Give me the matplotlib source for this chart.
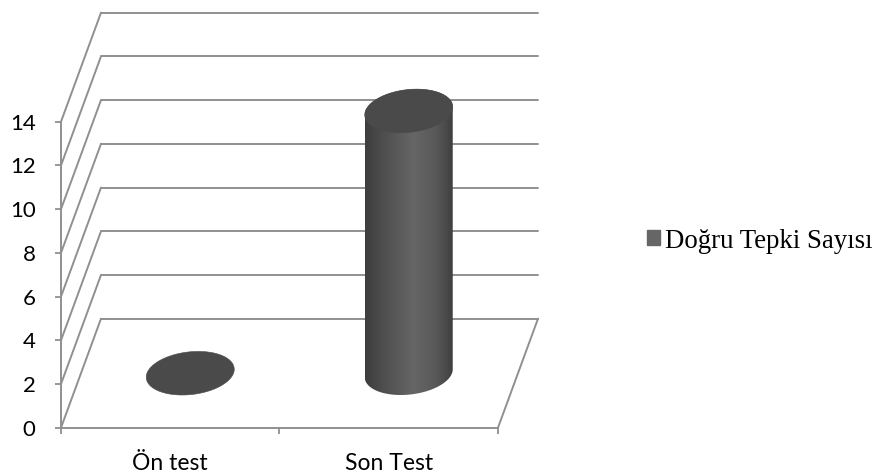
import numpy as np
import matplotlib
matplotlib.use("Agg")
import matplotlib.pyplot as plt
from matplotlib.patches import Polygon, Patch

categories = ["Ön test", "Son Test"]
values = [0, 12]
series_name = "Doğru Tepki Sayısı"
y_ticks = [0, 2, 4, 6, 8, 10, 12, 14]

GRID = "#909090"
TOP = "#4a4a4a"
DEPTH_X = 0.183   # category units at full depth
DEPTH_Y = 4.986   # value units at full depth
RX = 0.198        # cylinder radius in category units
RD = 0.2          # cylinder radius as fraction of depth

W, H = 878, 475
fig = plt.figure(figsize=(W / 100, H / 100), dpi=100)
ax = fig.add_axes([61 / W, 1 - 427.7 / H, (498 - 61) / W, (427 - 121) / H])
ax.set_xlim(0, 2)
ax.set_ylim(0, 14)
ax.patch.set_visible(False)
for s in ("top", "right"):
    ax.spines[s].set_visible(False)
for s in ("left", "bottom"):
    ax.spines[s].set_color(GRID)
    ax.spines[s].set_linewidth(1.4)

ax.set_yticks(y_ticks)
ax.tick_params(axis="y", length=4.3, width=1.3, color=GRID, pad=14,
               labelsize=16, labelfontfamily="Lato", labelcolor="black")
ax.set_xticks([0, 1, 2])
ax.set_xticklabels([])
ax.set_xticks([0.5, 1.5], categories, minor=True)
ax.tick_params(axis="x", which="major", length=4.3, width=1.3, color=GRID)
ax.tick_params(axis="x", which="minor", length=0, pad=18.5,
               labelsize=16.5, labelfontfamily="Lato", labelcolor="black")


def line(xs, ys):
    ax.plot(xs, ys, color=GRID, lw=1.4, clip_on=False, zorder=1,
            solid_capstyle="round")


for k in y_ticks:
    line([0, DEPTH_X], [k, k + DEPTH_Y])
    line([DEPTH_X, 2 + DEPTH_X], [k + DEPTH_Y, k + DEPTH_Y])
line([2, 2 + DEPTH_X], [0, DEPTH_Y])


def rim(cx, v, t):
    x = cx + 0.5 * DEPTH_X + RX * np.cos(t) + RD * DEPTH_X * np.sin(t)
    y = v + 0.5 * DEPTH_Y + RD * DEPTH_Y * np.sin(t)
    return np.column_stack([x, y])


t0 = np.arctan2(RD * DEPTH_X, RX)
grad = np.interp(np.linspace(0, 1, 200),
                 [0, 0.25, 0.55, 0.8, 1],
                 [0.24, 0.32, 0.40, 0.35, 0.25])[None, :]

for i, v in enumerate(values):
    cx = i + 0.5
    if v > 0:
        low = rim(cx, 0, np.linspace(t0, t0 - np.pi, 80))
        high = rim(cx, v, np.linspace(t0 - np.pi, t0 - 2 * np.pi, 80))
        outline = np.vstack([low, high])
        body = Polygon(outline, closed=True, transform=ax.transData,
                       facecolor="none", edgecolor="none")
        ax.add_patch(body)
        body.set_clip_on(False)
        im = ax.imshow(grad, cmap="gray", vmin=0, vmax=1, aspect="auto",
                       extent=[outline[:, 0].min(), outline[:, 0].max(), 0, v + DEPTH_Y],
                       zorder=3, interpolation="bilinear")
        im.set_clip_box(fig.bbox)
        im.set_clip_path(body)
    top = rim(cx, v, np.linspace(0, 2 * np.pi, 160))
    ax.add_patch(Polygon(top, closed=True, facecolor=TOP, edgecolor=TOP, lw=0.4,
                         zorder=4, clip_on=False))

ax.set_xlim(0, 2)
ax.set_ylim(0, 14)

leg = fig.legend(handles=[Patch(facecolor="#666666", edgecolor="#666666", label=series_name)],
                 loc="center left", bbox_to_anchor=(647 / W, 1 - 241 / H),
                 frameon=False, handlelength=0.48, handleheight=0.48, handletextpad=0.2,
                 borderpad=0, borderaxespad=0,
                 prop={"family": "Liberation Serif", "size": 19.4})

fig.savefig("out.png", dpi=100)
